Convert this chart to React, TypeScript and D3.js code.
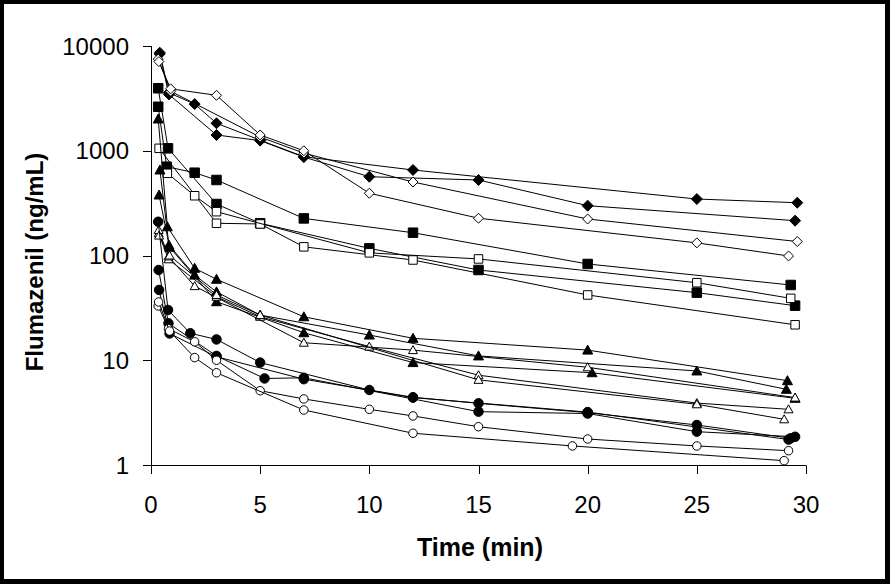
import React from 'react';
import * as d3 from 'd3';

// ---- axis ticks ----
const xTicks = [0, 5, 10, 15, 20, 25, 30];
const yTicks = [1, 10, 100, 1000, 10000];

// ---- diamonds ----
const fd1T = [0.4, 0.82, 2, 3, 5, 7, 12, 25, 29.6];
const fd1C = [8630, 3580, 2790, 1830, 1262, 877, 655, 346, 319];
const fd2T = [0.4, 0.82, 3, 5, 7, 10, 15, 20, 29.5];
const fd2C = [8400, 3450, 1414, 1250, 870, 565, 526, 299, 215];
const od1T = [0.33, 0.9, 5, 7, 12, 20, 29.6];
const od1C = [7500, 3700, 1350, 950, 503, 223, 136];
const od2T = [0.36, 0.9, 3, 5, 7, 10, 15, 25, 29.2];
const od2C = [7100, 3900, 3383, 1414, 1000, 393, 227, 132, 99];

// ---- squares ----
const fs1T = [0.33, 0.72, 2, 3, 7, 12, 20, 29.3];
const fs1C = [2630, 704, 617, 526, 226, 165, 83, 52.3];
const fs2T = [0.33, 0.78, 3, 5, 10, 15, 25, 29.5];
const fs2C = [3950, 1055, 310, 203, 117, 72.7, 44.2, 33.2];
const os1T = [0.37, 3, 5, 7, 12, 20, 29.5];
const os1C = [1055, 203, 200, 121, 90.6, 42, 21.8];
const os2T = [0.75, 2, 3, 10, 15, 25, 29.3];
const os2C = [609, 372, 262, 106, 92.7, 55, 39];

// ---- triangles ----
const ft1T = [0.33, 0.75, 2, 3, 7, 12, 20, 29.15];
const ft1C = [2010, 188, 75.5, 59.3, 26, 16.2, 12.5, 6.38];
const ft2T = [0.41, 0.82, 2, 3, 5, 10, 15, 25, 29.1];
const ft2C = [655, 126, 65, 45, 27, 17.4, 11, 7.9, 5.28];
const ft3T = [0.37, 0.85, 3, 7, 12, 20.2, 29.5];
const ft3C = [378, 120, 36.2, 18.3, 9.5, 7.6, 4.33];
const ot1T = [0.35, 0.8, 3, 5, 10, 15, 25, 29.2];
const ot1C = [163, 92, 40.4, 26, 13.5, 7.2, 3.9, 3.4];
const ot2T = [0.35, 0.8, 2, 7, 12, 20, 29.5];
const ot2C = [175, 98, 51, 14.7, 12.5, 8.57, 4.4];
const ot3T = [0.37, 0.85, 3, 5, 15, 25, 29];
const ot3C = [155, 100, 42, 27, 6.5, 3.8, 2.73];

// ---- circles ----
const fc1T = [0.33, 0.78, 1.8, 3, 5, 10, 12, 15, 20, 25, 29.3];
const fc1C = [210, 30.2, 18.1, 15.8, 9.5, 5.2, 4.43, 3.88, 3.16, 2.41, 1.8];
const fc2T = [0.35, 0.8, 3, 5.2, 7, 15, 20, 25, 29.5];
const fc2C = [72.7, 22.5, 11, 6.7, 6.8, 3.23, 3.1, 2.08, 1.86];
const fc3T = [0.37, 0.85, 3, 7, 12, 20, 29.2];
const fc3C = [46.9, 18, 10.8, 6.6, 4.4, 3.2, 1.75];
const oc1T = [0.33, 0.8, 2, 3, 5, 7, 10, 12, 15, 20, 25, 29.2];
const oc1C = [33, 20, 15, 10, 5.12, 4.27, 3.4, 2.94, 2.32, 1.77, 1.52, 1.37];
const oc2T = [0.35, 0.85, 2, 3, 7, 12, 19.3, 29];
const oc2C = [36, 19, 10.6, 7.6, 3.35, 2.01, 1.52, 1.1];

type Shape = 'diamond' | 'square' | 'triangle' | 'circle';
const series: { t: number[]; c: number[]; shape: Shape; filled: boolean }[] = [
  { t: fd1T, c: fd1C, shape: 'diamond', filled: true },
  { t: fd2T, c: fd2C, shape: 'diamond', filled: true },
  { t: od1T, c: od1C, shape: 'diamond', filled: false },
  { t: od2T, c: od2C, shape: 'diamond', filled: false },
  { t: fs1T, c: fs1C, shape: 'square', filled: true },
  { t: fs2T, c: fs2C, shape: 'square', filled: true },
  { t: os1T, c: os1C, shape: 'square', filled: false },
  { t: os2T, c: os2C, shape: 'square', filled: false },
  { t: ft1T, c: ft1C, shape: 'triangle', filled: true },
  { t: ft2T, c: ft2C, shape: 'triangle', filled: true },
  { t: ft3T, c: ft3C, shape: 'triangle', filled: true },
  { t: ot1T, c: ot1C, shape: 'triangle', filled: false },
  { t: ot2T, c: ot2C, shape: 'triangle', filled: false },
  { t: ot3T, c: ot3C, shape: 'triangle', filled: false },
  { t: fc1T, c: fc1C, shape: 'circle', filled: true },
  { t: fc2T, c: fc2C, shape: 'circle', filled: true },
  { t: fc3T, c: fc3C, shape: 'circle', filled: true },
  { t: oc1T, c: oc1C, shape: 'circle', filled: false },
  { t: oc2T, c: oc2C, shape: 'circle', filled: false },
];

const W = 890;
const H = 584;
const FONT = "'Liberation Sans', Arial, sans-serif";

function markerPath(shape: Shape, cx: number, cy: number, filled: boolean): string {
  const k = filled ? 0 : 0.5;
  if (shape === 'diamond') {
    const h = 5.5 - k;
    return `M${cx},${cy - h}L${cx + h},${cy}L${cx},${cy + h}L${cx - h},${cy}Z`;
  }
  if (shape === 'square') {
    const h = 4.75 - k;
    return `M${cx - h},${cy - h}H${cx + h}V${cy + h}H${cx - h}Z`;
  }
  if (shape === 'triangle') {
    const w = 5 - k;
    const top = cy - 5 + k;
    const bot = cy + 4 - k;
    return `M${cx},${top}L${cx + w},${bot}L${cx - w},${bot}Z`;
  }
  const r = 4.75 - k;
  return `M${cx - r},${cy}A${r},${r} 0 1,0 ${cx + r},${cy}A${r},${r} 0 1,0 ${cx - r},${cy}Z`;
}

export default function App() {
  const x = d3.scaleLinear().domain([0, 30]).range([151, 806]);
  const y = d3.scaleLog().domain([1, 10000]).range([465, 46]);
  const line = d3
    .line<[number, number]>()
    .x((d) => x(d[0]))
    .y((d) => y(d[1]));

  return (
    <svg
      width={W}
      height={H}
      style={{ position: 'absolute', left: 0, top: 0, display: 'block' }}
      fontFamily={FONT}
    >
      <rect x={0} y={0} width={W} height={H} fill="#000" />
      <rect x={4} y={4} width={W - 9} height={H - 9} fill="#fff" />

      {/* axes */}
      <line x1={151.5} x2={151.5} y1={46} y2={465.5} stroke="#000" strokeWidth={1} />
      <line x1={143} x2={806} y1={465.5} y2={465.5} stroke="#000" strokeWidth={1} />
      {yTicks.map((v) => (
        <g key={'y' + v}>
          <line x1={143} x2={151.5} y1={Math.round(y(v)) + 0.5} y2={Math.round(y(v)) + 0.5} stroke="#000" />
          <text x={129} y={y(v)} dy="0.36em" textAnchor="end" fontSize={24} fill="#000">
            {v}
          </text>
        </g>
      ))}
      {xTicks.map((v) => (
        <g key={'x' + v}>
          <line x1={Math.round(x(v)) + 0.5} x2={Math.round(x(v)) + 0.5} y1={465.5} y2={474} stroke="#000" />
          <text x={x(v)} y={513} textAnchor="middle" fontSize={24} fill="#000">
            {v}
          </text>
        </g>
      ))}
      <text x={480} y={556} textAnchor="middle" fontSize={25} fontWeight="bold" fill="#000">
        Time (min)
      </text>
      <text
        transform={`translate(43, 262) rotate(-90)`}
        textAnchor="middle"
        fontSize={24}
        fontWeight="bold"
        fill="#000"
      >
        Flumazenil (ng/mL)
      </text>

      {series.map((s, i) => {
        const pts = s.t.map((t, j) => [t, s.c[j]] as [number, number]);
        return (
          <g key={'s' + i}>
            <path d={line(pts) || ''} fill="none" stroke="#000" strokeWidth={1} />
            {pts.map((p, j) => (
              <path
                key={j}
                d={markerPath(s.shape, x(p[0]), y(p[1]), s.filled)}
                fill={s.filled ? '#000' : '#fff'}
                stroke="#000"
                strokeWidth={1}
              />
            ))}
          </g>
        );
      })}
    </svg>
  );
}
